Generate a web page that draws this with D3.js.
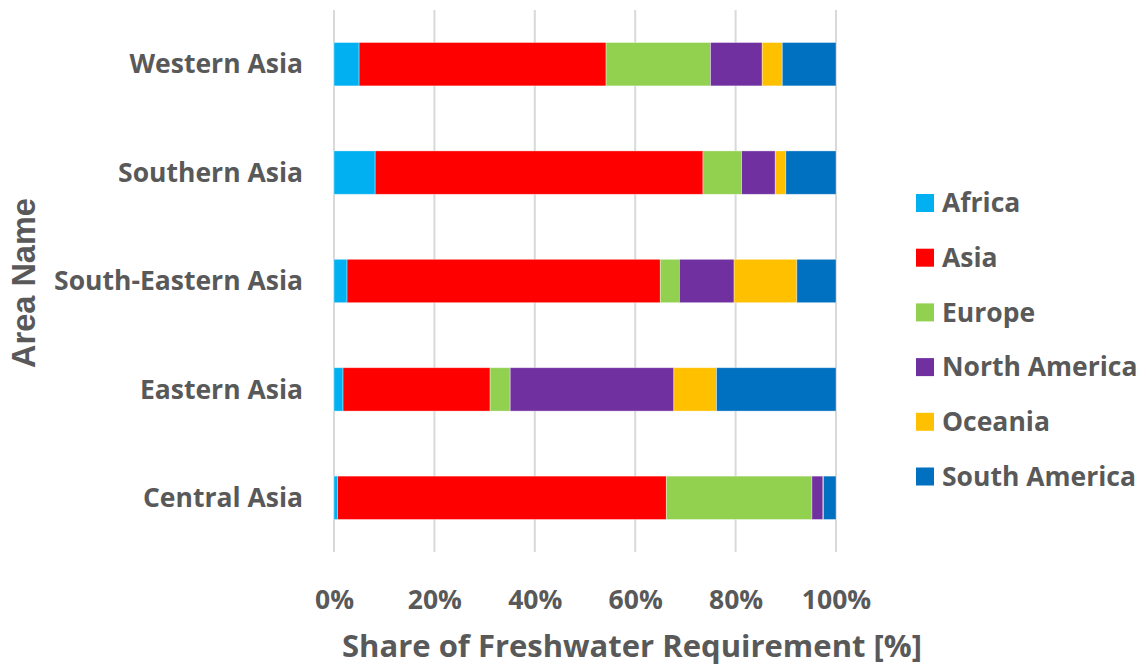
<!DOCTYPE html>
<html>
<head>
<meta charset="utf-8">
<script src="https://cdn.jsdelivr.net/npm/d3@7"></script>
<style>
  html, body { margin: 0; padding: 0; background: #fff; }
  svg text { font-family: "Open Sans", "Noto Sans", sans-serif; font-weight: 700; fill: #595959; }
</style>
</head>
<body>
<svg id="chart" width="1145" height="666"></svg>
<script>
// Regions (top to bottom) and the share of freshwater requirement (%) by supplying continent
const areas = ["Western Asia", "Southern Asia", "South-Eastern Asia", "Eastern Asia", "Central Asia"];
const continents = ["Africa", "Asia", "Europe", "North America", "Oceania", "South America"];
const colors = ["#00B0F0", "#FF0000", "#92D050", "#7030A0", "#FFC000", "#0070C0"];

const africa       = [5.0, 8.2, 2.6, 1.8, 0.7];
const asia         = [49.2, 65.3, 62.4, 29.3, 65.5];
const europe       = [20.8, 7.7, 3.8, 4.0, 29.0];
const northAmerica = [10.3, 6.7, 10.9, 32.6, 2.2];
const oceania      = [4.0, 2.1, 12.5, 8.5, 0.1];
const southAmerica = [10.7, 10.0, 7.8, 23.8, 2.5];

const xTicks = [0, 20, 40, 60, 80, 100];

const seriesValues = [africa, asia, europe, northAmerica, oceania, southAmerica];
const rows = areas.map((a, i) => {
  const r = { area: a };
  continents.forEach((c, j) => { r[c] = seriesValues[j][i]; });
  return r;
});

const svg = d3.select("#chart");
const plotLeft = 334, plotRight = 836, plotTop = 10, plotBottom = 552;

const x = d3.scaleLinear().domain([0, 100]).range([plotLeft, plotRight]);
const y = d3.scaleBand().domain(areas).range([plotTop, plotBottom]).paddingInner(0.6).paddingOuter(0.3);

// vertical gridlines
svg.append("g").selectAll("line").data(xTicks).join("line")
  .attr("x1", d => x(d)).attr("x2", d => x(d))
  .attr("y1", plotTop).attr("y2", plotBottom)
  .attr("stroke", "#d9d9d9").attr("stroke-width", 2);

// stacked bars (each row normalised to 100%)
const stack = d3.stack().keys(continents).offset(d3.stackOffsetExpand);
const layers = stack(rows);

svg.append("g").selectAll("g").data(layers).join("g")
  .attr("fill", (d, i) => colors[i])
  .selectAll("rect").data(d => d).join("rect")
  .attr("x", d => x(d[0] * 100))
  .attr("width", d => x(d[1] * 100) - x(d[0] * 100))
  .attr("y", d => y(d.data.area))
  .attr("height", y.bandwidth())
  .attr("stroke", "rgba(255,255,255,0.45)")
  .attr("stroke-width", 0.8);

// x axis tick labels
const xAxis = d3.axisBottom(x).tickValues(xTicks).tickFormat(d => d + "%").tickSize(0).tickPadding(0);
const gx = svg.append("g").attr("transform", `translate(0,${plotBottom})`).call(xAxis);
gx.select(".domain").remove();
gx.selectAll("text").attr("dy", 0).attr("y", 57).style("font-size", "26.5px")
  .style("font-family", '"Open Sans", sans-serif').style("font-weight", 700).attr("fill", "#595959");

// y axis category labels
const yAxis = d3.axisLeft(y).tickSize(0).tickPadding(0);
const gy = svg.append("g").attr("transform", `translate(303,0)`).call(yAxis);
gy.select(".domain").remove();
gy.selectAll("text").attr("dy", "0.35em").style("font-size", "26.5px")
  .style("font-family", '"Open Sans", sans-serif').style("font-weight", 700).attr("fill", "#595959");

// axis titles
svg.append("text")
  .attr("x", (plotLeft + plotRight) / 2 + 47).attr("y", 657)
  .attr("text-anchor", "middle")
  .style("font-size", "31px")
  .text("Share of Freshwater Requirement [%]");

svg.append("text")
  .attr("transform", "translate(35,283) rotate(-90)")
  .attr("text-anchor", "middle")
  .style("font-family", '"Liberation Sans", Arial, sans-serif')
  .style("font-size", "32.5px")
  .text("Area Name");

// legend
const legend = svg.append("g").selectAll("g").data(continents).join("g")
  .attr("transform", (d, i) => `translate(916,${203 + i * 54.7})`);
legend.append("rect")
  .attr("x", 0).attr("y", -9).attr("width", 18).attr("height", 18)
  .attr("fill", (d, i) => colors[i]);
legend.append("text")
  .attr("x", 26).attr("dy", "0.35em")
  .style("font-size", "26.5px")
  .text(d => d);
</script>
</body>
</html>
